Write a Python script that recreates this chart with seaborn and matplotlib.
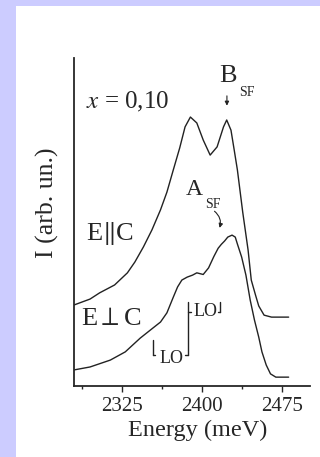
import numpy as np
import pandas as pd
import matplotlib
matplotlib.use("Agg")
import matplotlib.pyplot as plt
import seaborn as sns
from matplotlib.ticker import MultipleLocator, AutoMinorLocator
from matplotlib.patches import Rectangle

# dados (energia em meV, intensidade em unidades arbitrárias)
energia_par = [2280, 2295, 2304, 2318, 2330, 2337, 2345, 2353, 2361, 2367, 2373,
               2379, 2384, 2389, 2395, 2401, 2407.5, 2414, 2420, 2423, 2427, 2430,
               2433, 2438, 2443, 2446, 2450, 2453, 2458, 2465, 2481]
intens_par = [24.7, 26.5, 28.4, 30.8, 34.5, 37.8, 42.4, 47.6, 53.7, 59.1, 65.9,
              72.6, 79.0, 82.0, 80.2, 75.0, 70.4, 72.9, 79.0, 81.1, 78.0, 72.0,
              65.9, 53.0, 41.5, 32.3, 27.7, 24.4, 21.6, 21.0, 21.0]

energia_perp = [2280, 2295, 2314, 2328, 2342, 2354, 2361, 2367, 2373, 2377, 2381,
                2386, 2391, 2395, 2401, 2406, 2411, 2415, 2418, 2421, 2424, 2428,
                2431, 2433, 2437, 2441, 2445, 2449, 2453, 2456, 2460, 2464, 2469,
                2481]
intens_perp = [4.9, 5.8, 7.9, 10.4, 14.6, 17.7, 19.5, 22.3, 27.1, 30.2, 32.3,
               33.2, 33.8, 34.5, 34.0, 36.0, 39.5, 42.0, 43.2, 44.2, 45.4, 46.0,
               45.4, 43.3, 39.3, 33.8, 26.2, 20.1, 14.9, 10.4, 6.4, 3.7, 2.7, 2.7]

# posições das réplicas de fônon LO (meV)
e_asf = 2417
e_lo1 = 2387
e_lo2 = 2354

df = pd.concat([
    pd.DataFrame({"E": energia_par, "I": intens_par, "pol": "par"}),
    pd.DataFrame({"E": energia_perp, "I": intens_perp, "pol": "perp"}),
])

sns.set_style("ticks")
plt.rcParams["font.family"] = ["Liberation Serif", "DejaVu Serif"]
plt.rcParams["mathtext.fontset"] = "stix"

fig = plt.figure(figsize=(3.2, 4.57), dpi=100)
fig.patch.set_facecolor("#ccccff")
fundo = fig.add_axes([16 / 320, 0, 1 - 16 / 320, 1 - 6 / 457], zorder=-5)
fundo.axis("off")
fundo.add_patch(Rectangle((0, 0), 1, 1, transform=fundo.transAxes,
                          facecolor="white", edgecolor="none"))

ax = fig.add_axes([74 / 320, 71 / 457, 236 / 320, 328 / 457], zorder=1)
ax.set_facecolor("none")

cor = "#222222"
sns.lineplot(data=df, x="E", y="I", units="pol", estimator=None, color=cor,
             lw=1.0, ax=ax, legend=False)

ax.set_xlim(2280, 2501)
ax.set_ylim(0, 100)
ax.xaxis.set_major_locator(MultipleLocator(75))
ax.xaxis.set_minor_locator(AutoMinorLocator(2))
ax.set_yticks([])
ax.tick_params(axis="x", which="major", direction="out", length=4, width=1,
               labelsize=15, pad=4)
ax.tick_params(axis="x", which="minor", direction="out", length=2.5, width=1)
for s in ["top", "right"]:
    ax.spines[s].set_visible(False)
for s in ["left", "bottom"]:
    ax.spines[s].set_linewidth(1.3)

ax.set_xlabel("Energy (meV)", fontsize=17.5, labelpad=3)
ax.xaxis.label.set_x(0.525)
ax.set_ylabel("I (arb. un.)", fontsize=18.5)
ax.yaxis.set_label_coords(-0.062, 0.558)

# anotações
ax.text(2291, 86.6, r"$x$ = 0,10", fontsize=18, ha="left", va="center")
ax.text(2313.5, 46.5, r"E$\Vert$C", fontsize=19, ha="center", va="center")
ax.text(2314.5, 20.3, r"E$\perp$C", fontsize=19, ha="center", va="center")

ax.text(2424.5, 94.5, "B", fontsize=19, ha="center", va="center")
ax.text(2442, 89.6, "SF", fontsize=10, ha="center", va="center")
ax.annotate("", xy=(2423.2, 84.6), xytext=(2423.2, 89.3),
            arrowprops=dict(arrowstyle="-|>", color=cor, lw=0.8,
                            mutation_scale=6))

ax.text(2392.5, 59.8, "A", fontsize=17, ha="center", va="center")
ax.text(2410, 55.3, "SF", fontsize=10, ha="center", va="center")
ax.annotate("", xy=(e_asf - 1.5, 47.4), xytext=(e_asf - 7.5, 53.8),
            arrowprops=dict(arrowstyle="-|>", color=cor, lw=0.8,
                            mutation_scale=6, connectionstyle="arc3,rad=-0.4"))

# marcações LO
ax.plot([e_lo1, e_lo1], [9.5, 25.6], color=cor, lw=1.0)
ax.plot([e_lo1, e_lo1 + 3], [22.6, 22.6], color=cor, lw=1.0)
ax.plot([e_asf, e_asf], [22.6, 25.6], color=cor, lw=1.0)
ax.plot([e_asf - 2, e_asf], [22.6, 22.6], color=cor, lw=1.0)
ax.text((e_lo1 + e_asf) / 2 + 0.8, 22.8, "LO", fontsize=13, ha="center", va="center")

ax.plot([e_lo2, e_lo2], [9.5, 14.0], color=cor, lw=1.0)
ax.plot([e_lo2, e_lo2 + 2], [9.5, 9.5], color=cor, lw=1.0)
ax.plot([e_lo1 - 3, e_lo1], [9.5, 9.5], color=cor, lw=1.0)
ax.text((e_lo2 + e_lo1) / 2 + 0.5, 8.4, "LO", fontsize=13, ha="center", va="center")

fig.savefig("out.png", dpi=100, facecolor=fig.get_facecolor())
